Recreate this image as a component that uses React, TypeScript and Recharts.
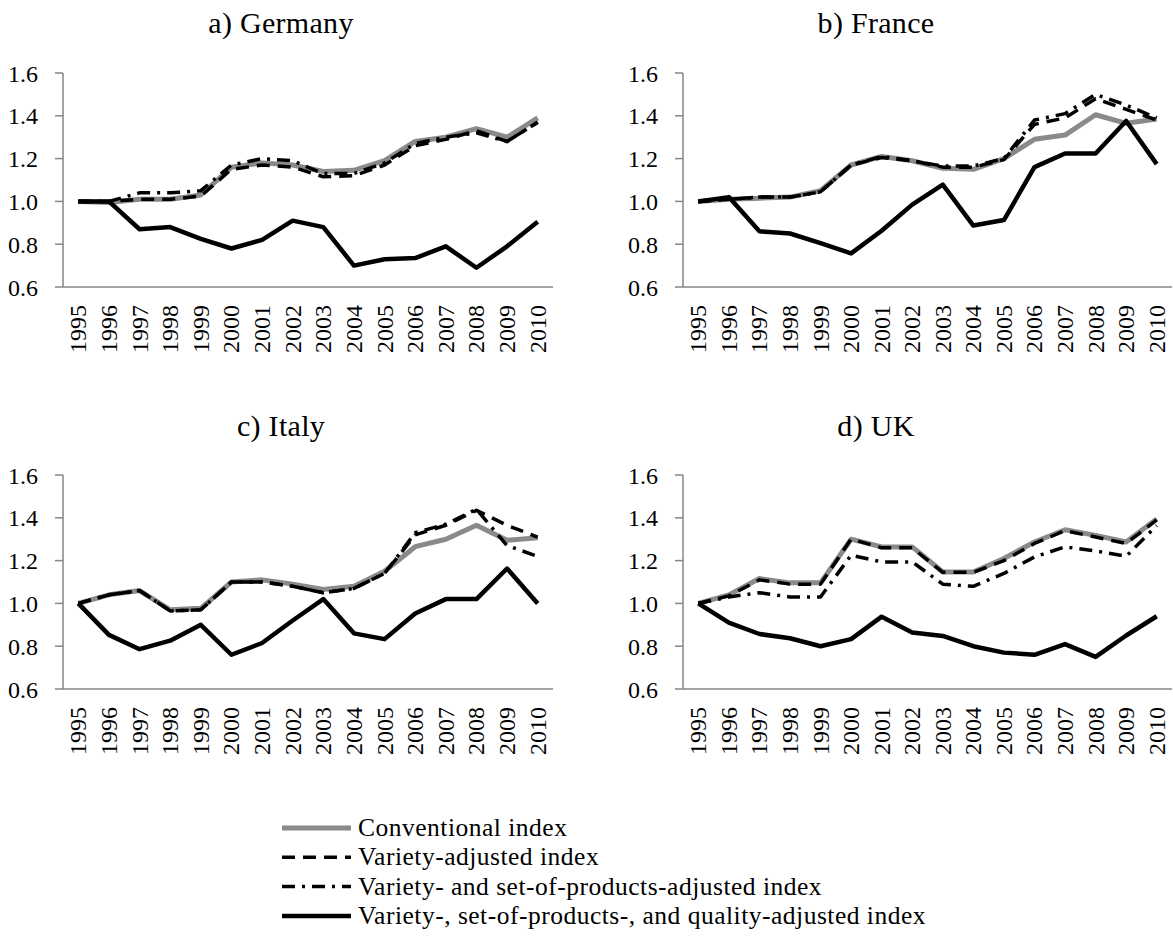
import React from 'react';
import { LineChart, Line, XAxis, YAxis } from 'recharts';

const YEARS = [1995, 1996, 1997, 1998, 1999, 2000, 2001, 2002, 2003, 2004, 2005, 2006, 2007, 2008, 2009, 2010];
// category boundaries, used only for the tick marks between years
const EDGES = [1994.5, 1995.5, 1996.5, 1997.5, 1998.5, 1999.5, 2000.5, 2001.5, 2002.5, 2003.5, 2004.5, 2005.5, 2006.5, 2007.5, 2008.5, 2009.5, 2010.5];
const Y_TICKS = [0.6, 0.8, 1.0, 1.2, 1.4, 1.6];

const GERMANY_CONV = [1.0, 0.995, 1.01, 1.01, 1.03, 1.16, 1.18, 1.17, 1.14, 1.145, 1.19, 1.28, 1.3, 1.34, 1.3, 1.39];
const GERMANY_VAR = [1.0, 1.0, 1.01, 1.01, 1.025, 1.15, 1.17, 1.16, 1.115, 1.12, 1.17, 1.26, 1.29, 1.33, 1.28, 1.37];
const GERMANY_VSP = [1.0, 1.0, 1.04, 1.04, 1.05, 1.17, 1.2, 1.19, 1.13, 1.13, 1.18, 1.27, 1.3, 1.32, 1.28, 1.37];
const GERMANY_Q = [1.0, 1.0, 0.87, 0.88, 0.825, 0.78, 0.82, 0.91, 0.88, 0.7, 0.73, 0.735, 0.79, 0.69, 0.79, 0.905];

const FRANCE_CONV = [1.0, 1.01, 1.015, 1.02, 1.05, 1.17, 1.21, 1.19, 1.155, 1.15, 1.2, 1.29, 1.31, 1.405, 1.365, 1.385];
const FRANCE_VAR = [1.0, 1.01, 1.02, 1.02, 1.045, 1.17, 1.205, 1.19, 1.16, 1.16, 1.195, 1.36, 1.39, 1.48, 1.43, 1.38];
const FRANCE_VSP = [1.0, 1.01, 1.02, 1.02, 1.045, 1.17, 1.21, 1.19, 1.165, 1.165, 1.2, 1.38, 1.41, 1.5, 1.45, 1.39];
const FRANCE_Q = [1.0, 1.02, 0.86, 0.85, 0.805, 0.757, 0.863, 0.985, 1.078, 0.887, 0.913, 1.16, 1.224, 1.224, 1.376, 1.174];

const ITALY_CONV = [1.0, 1.04, 1.06, 0.97, 0.977, 1.1, 1.11, 1.09, 1.065, 1.08, 1.15, 1.265, 1.3, 1.365, 1.295, 1.307];
const ITALY_VAR = [1.0, 1.04, 1.06, 0.965, 0.97, 1.1, 1.1, 1.08, 1.05, 1.07, 1.14, 1.32, 1.365, 1.435, 1.365, 1.31];
const ITALY_VSP = [1.0, 1.04, 1.06, 0.965, 0.97, 1.1, 1.1, 1.08, 1.05, 1.07, 1.14, 1.33, 1.37, 1.44, 1.27, 1.22];
const ITALY_Q = [1.0, 0.853, 0.786, 0.826, 0.9, 0.76, 0.815, 0.92, 1.02, 0.86, 0.833, 0.953, 1.02, 1.02, 1.163, 1.0];

const UK_CONV = [1.0, 1.04, 1.116, 1.096, 1.096, 1.3, 1.264, 1.264, 1.147, 1.147, 1.21, 1.287, 1.344, 1.318, 1.287, 1.395];
const UK_VAR = [1.0, 1.035, 1.11, 1.09, 1.09, 1.3, 1.26, 1.26, 1.145, 1.145, 1.2, 1.28, 1.34, 1.31, 1.28, 1.39];
const UK_VSP = [1.0, 1.03, 1.05, 1.03, 1.03, 1.225, 1.194, 1.194, 1.09, 1.08, 1.14, 1.217, 1.264, 1.245, 1.22, 1.364];
const UK_Q = [1.0, 0.91, 0.857, 0.837, 0.8, 0.833, 0.938, 0.864, 0.848, 0.8, 0.77, 0.76, 0.81, 0.75, 0.85, 0.94];

const FONT = '"Liberation Serif", "Times New Roman", serif';
const AXIS_GRAY = '#868686';

const SERIES = [
    { key: 'conv', name: 'Conventional index', color: '#8a8a8a', width: 5, dash: undefined },
    { key: 'var', name: 'Variety-adjusted index', color: '#000000', width: 3.5, dash: '13 8' },
    { key: 'vsp', name: 'Variety- and set-of-products-adjusted index', color: '#000000', width: 3.5, dash: '13 7 3 7' },
    { key: 'q', name: 'Variety-, set-of-products-, and quality-adjusted index', color: '#000000', width: 4.5, dash: undefined },
];

const buildRows = (conv: number[], variety: number[], vsp: number[], q: number[]) =>
    YEARS.map((year, i) => ({ year, conv: conv[i], var: variety[i], vsp: vsp[i], q: q[i] }));

const PANELS = [
    { title: 'a) Germany', rows: buildRows(GERMANY_CONV, GERMANY_VAR, GERMANY_VSP, GERMANY_Q), left: 0, top: 0, titleX: 281, titleY: 33 },
    { title: 'b) France', rows: buildRows(FRANCE_CONV, FRANCE_VAR, FRANCE_VSP, FRANCE_Q), left: 620, top: 0, titleX: 876, titleY: 33 },
    { title: 'c) Italy', rows: buildRows(ITALY_CONV, ITALY_VAR, ITALY_VSP, ITALY_Q), left: 0, top: 402, titleX: 281, titleY: 436 },
    { title: 'd) UK', rows: buildRows(UK_CONV, UK_VAR, UK_VSP, UK_Q), left: 620, top: 402, titleX: 876, titleY: 436 },
];

const YearTick = (props: any) => {
    const { x, y, payload } = props;
    return (
        <text
            x={x}
            y={y}
            transform={`rotate(-90 ${x} ${y})`}
            textAnchor="end"
            dominantBaseline="central"
            fontSize={24}
            fontFamily={FONT}
            fill="#000"
        >
            {payload.value}
        </text>
    );
};

const Panel = ({ rows, left, top }: { rows: any[]; left: number; top: number }) => (
    <div style={{ position: 'absolute', left, top }}>
        <LineChart width={left === 0 ? 570 : 553} height={380} data={rows} margin={{ top: 73, right: left === 0 ? 17 : 1, left: 0, bottom: 91 }}>
            <XAxis
                xAxisId="edge"
                type="number"
                domain={[1994.5, 2010.5]}
                ticks={EDGES}
                allowDataOverflow
                tick={false}
                tickSize={7}
                height={1}
                axisLine={{ stroke: AXIS_GRAY, strokeWidth: 1.5 }}
                tickLine={{ stroke: AXIS_GRAY, strokeWidth: 1.5 }}
            />
            <XAxis
                xAxisId="yr"
                dataKey="year"
                type="number"
                domain={[1994.5, 2010.5]}
                ticks={YEARS}
                interval={0}
                allowDataOverflow
                axisLine={false}
                tickLine={false}
                tickSize={7}
                tickMargin={10}
                height={1}
                tick={<YearTick />}
            />
            <YAxis
                domain={[0.6, 1.6]}
                ticks={Y_TICKS}
                interval={0}
                width={63}
                tickSize={8}
                tickMargin={17}
                tickFormatter={(v: number) => v.toFixed(1)}
                tick={{ fill: '#000', fontSize: 24, fontFamily: FONT }}
                axisLine={{ stroke: AXIS_GRAY, strokeWidth: 1.5 }}
                tickLine={{ stroke: AXIS_GRAY, strokeWidth: 1.5 }}
            />
            {SERIES.map(s => (
                <Line
                    key={s.key}
                    xAxisId="yr"
                    type="linear"
                    dataKey={s.key}
                    name={s.name}
                    stroke={s.color}
                    strokeWidth={s.width}
                    strokeDasharray={s.dash}
                    strokeLinejoin="round"
                    dot={false}
                    activeDot={false}
                    isAnimationActive={false}
                />
            ))}
        </LineChart>
    </div>
);

const LEGEND_TOP = 828;
const LEGEND_STEP = 29.3;

export default function App() {
    return (
        <div style={{ position: 'absolute', left: 0, top: 0, width: 1173, height: 938, background: '#fff', fontFamily: FONT }}>
            {PANELS.map(p => (
                <Panel key={p.title} rows={p.rows} left={p.left} top={p.top} />
            ))}
            <svg width={1173} height={938} style={{ position: 'absolute', left: 0, top: 0, pointerEvents: 'none' }}>
                {PANELS.map(p => (
                    <text key={p.title} x={p.titleX} y={p.titleY} textAnchor="middle" fontSize={30} letterSpacing={0.3} fontFamily={FONT} fill="#000">
                        {p.title}
                    </text>
                ))}
                {SERIES.map((s, i) => {
                    const y = LEGEND_TOP + i * LEGEND_STEP;
                    return (
                        <g key={s.key}>
                            <line x1={282} x2={351} y1={y} y2={y} stroke={s.color} strokeWidth={s.width} strokeDasharray={s.dash} />
                            <text x={358} y={y + 8} fontSize={25.5} letterSpacing={0.5} fontFamily={FONT} fill="#000">
                                {s.name}
                            </text>
                        </g>
                    );
                })}
            </svg>
        </div>
    );
}
